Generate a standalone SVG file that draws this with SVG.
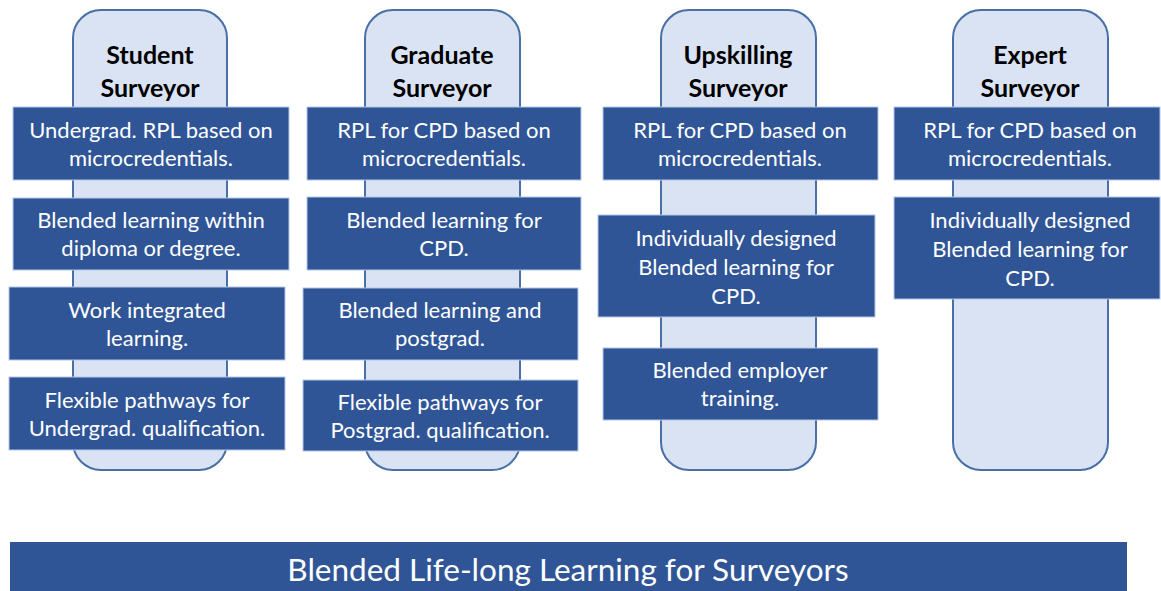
<svg xmlns="http://www.w3.org/2000/svg" width="1161" height="591" viewBox="0 0 1161 591">
<style>
.pill{fill:#DAE3F3;stroke:#4A6FA5;stroke-width:2}
.box{fill:#2F5597;stroke:#B4C7E7;stroke-width:1}
.t{font-family:Lato,"Liberation Sans",sans-serif;font-size:22px;fill:#FFFFFF;text-anchor:middle}
.h{font-family:Lato,"Liberation Sans",sans-serif;font-size:25px;font-weight:bold;fill:#000000;text-anchor:middle}
.b{font-family:Lato,"Liberation Sans",sans-serif;font-size:31.5px;fill:#FFFFFF;text-anchor:middle}
</style>
<rect width="1161" height="591" fill="#FFFFFF"/>
<g id="connectors"></g>
<g id="col-student">
<rect class="pill" x="73" y="10" width="154" height="460" rx="28"/>
<text class="h" x="150" y="64">Student</text>
<text class="h" x="150" y="97">Surveyor</text>
</g>
<g id="col-graduate">
<rect class="pill" x="365" y="10" width="155" height="460" rx="28"/>
<text class="h" x="442" y="64">Graduate</text>
<text class="h" x="442" y="97">Surveyor</text>
</g>
<g id="col-upskilling">
<rect class="pill" x="661" y="10" width="155" height="460" rx="28"/>
<text class="h" x="738" y="64">Upskilling</text>
<text class="h" x="738" y="97">Surveyor</text>
</g>
<g id="col-expert">
<rect class="pill" x="953" y="10" width="155" height="460" rx="28"/>
<text class="h" x="1030" y="64">Expert</text>
<text class="h" x="1030" y="97">Surveyor</text>
</g>
<g id="s1"><rect class="box" x="13" y="107" width="276" height="73"/><text class="t" x="151" y="138">Undergrad. RPL based on</text><text class="t" x="151" y="166">microcredentials.</text></g>
<g id="s2"><rect class="box" x="13" y="198" width="276" height="72"/><text class="t" x="151" y="228">Blended learning within</text><text class="t" x="151" y="256">diploma or degree.</text></g>
<g id="s3"><rect class="box" x="9" y="287" width="276" height="73"/><text class="t" x="147" y="318">Work integrated</text><text class="t" x="147" y="346">learning.</text></g>
<g id="s4"><rect class="box" x="9" y="377" width="276" height="73"/><text class="t" x="147" y="408">Flexible pathways for</text><text class="t" x="147" y="436">Undergrad. qualification.</text></g>
<g id="g1"><rect class="box" x="307" y="107" width="274" height="73"/><text class="t" x="444" y="138">RPL for CPD based on</text><text class="t" x="444" y="166">microcredentials.</text></g>
<g id="g2"><rect class="box" x="307" y="197" width="274" height="73"/><text class="t" x="444" y="228">Blended learning for</text><text class="t" x="444" y="256">CPD.</text></g>
<g id="g3"><rect class="box" x="303" y="288" width="275" height="72"/><text class="t" x="440" y="318">Blended learning and</text><text class="t" x="440" y="346">postgrad.</text></g>
<g id="g4"><rect class="box" x="303" y="380" width="275" height="71"/><text class="t" x="440" y="410">Flexible pathways for</text><text class="t" x="440" y="438">Postgrad. qualification.</text></g>
<g id="u1"><rect class="box" x="603" y="107" width="275" height="73"/><text class="t" x="740" y="138">RPL for CPD based on</text><text class="t" x="740" y="166">microcredentials.</text></g>
<g id="u2"><rect class="box" x="598" y="215" width="277" height="102"/><text class="t" x="736" y="246">Individually designed</text><text class="t" x="736" y="275">Blended learning for</text><text class="t" x="736" y="304">CPD.</text></g>
<g id="u3"><rect class="box" x="603" y="348" width="275" height="72"/><text class="t" x="740" y="378">Blended employer</text><text class="t" x="740" y="406">training.</text></g>
<g id="e1"><rect class="box" x="894" y="107" width="266" height="73"/><text class="t" x="1030" y="138">RPL for CPD based on</text><text class="t" x="1030" y="166">microcredentials.</text></g>
<g id="e2"><rect class="box" x="894" y="197" width="266" height="102"/><text class="t" x="1030" y="228">Individually designed</text><text class="t" x="1030" y="257">Blended learning for</text><text class="t" x="1030" y="286">CPD.</text></g>
<g id="banner"><rect x="10" y="542" width="1117" height="55" fill="#2F5597"/><text class="b" x="568" y="581">Blended Life-long Learning for Surveyors</text></g>
</svg>
